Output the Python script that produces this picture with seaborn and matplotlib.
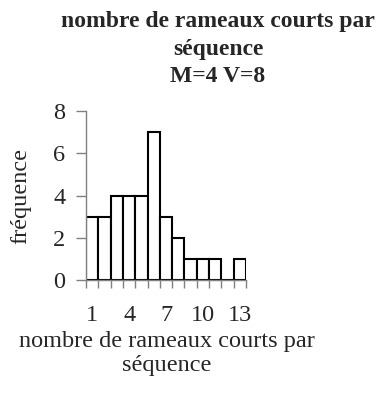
import matplotlib
matplotlib.use("Agg")
import matplotlib.pyplot as plt
import seaborn as sns
import pandas as pd

# Number of short shoots per sequence and their frequency
categories = [str(i) for i in range(1, 14)]
frequencies = [3, 3, 4, 4, 4, 7, 3, 2, 1, 1, 1, 0, 1]
shown_labels = ["1", "4", "7", "10", "13"]
y_ticks = [0, 2, 4, 6, 8]

sns.set_theme(style="white")
plt.rcParams["font.family"] = ["Liberation Serif", "DejaVu Serif"]

df = pd.DataFrame({"categorie": categories, "frequence": frequencies})

fig = plt.figure(figsize=(3.85, 3.99), dpi=100)
ax = fig.add_axes([86 / 385, 1 - 280 / 399, 160 / 385, 169 / 399])

sns.barplot(data=df, x="categorie", y="frequence", order=categories,
            color="white", edgecolor="black", linewidth=1.5, width=1.0,
            saturation=1, ax=ax)

ax.set_xlim(-0.5, len(categories) - 0.5)
ax.set_ylim(0, 8)
ax.set_yticks(y_ticks)
ax.set_yticklabels([str(v) for v in y_ticks], fontsize=17.5)

# category labels only every third bar, ticks on bar boundaries
ax.set_xticks(range(len(categories)))
ax.set_xticklabels([c if c in shown_labels else "" for c in categories], fontsize=17.5)
ax.set_xticks([i - 0.5 for i in range(len(categories) + 1)], minor=True)
ax.tick_params(axis="x", which="major", length=0, pad=18)
ax.tick_params(axis="x", which="minor", length=6, width=1, color="#808080",
               direction="out", bottom=True)
ax.tick_params(axis="y", which="major", length=7, width=1, color="#808080",
               direction="out", left=True, pad=8)

for side in ["top", "right"]:
    ax.spines[side].set_visible(False)
for side in ["left", "bottom"]:
    ax.spines[side].set_color("#808080")
    ax.spines[side].set_linewidth(1)

ax.set_xlabel("")
ax.set_ylabel("fréquence", fontsize=17.5)
ax.yaxis.set_label_coords(-0.34, 0.5)

fig.text(167 / 385, 1 - 341 / 399, "nombre de rameaux courts par",
         ha="center", va="center", fontsize=17.5)
fig.text(167 / 385, 1 - 365 / 399, "séquence",
         ha="center", va="center", fontsize=17.5)

for txt, ypix in [("nombre de rameaux courts par", 22),
                  ("séquence", 50), ("M=4 V=8", 77)]:
    fig.text(218 / 385, 1 - ypix / 399, txt, ha="center", va="center",
             fontsize=17, fontweight="bold")

fig.savefig("out.png", dpi=100, facecolor="white")
